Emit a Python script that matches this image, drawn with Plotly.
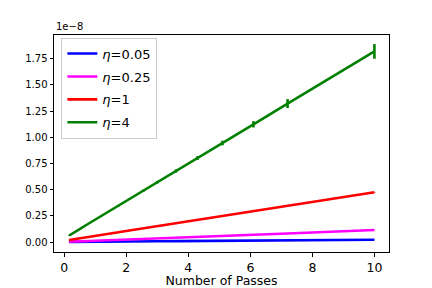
import plotly.graph_objects as go

# Number of passes (x values)
passes = [0.16, 0.2, 0.25, 0.3, 0.37, 0.45, 0.55, 0.67, 0.8, 1.0, 1.2, 1.45,
          1.75, 2.1, 2.55, 3.0, 3.6, 4.3, 5.1, 6.1, 7.2, 10.0]

# Values in units of 1e-8
eta_005 = [0.000, 0.000, 0.001, 0.001, 0.001, 0.001, 0.001, 0.002, 0.002, 0.002, 0.003, 0.003,
           0.004, 0.005, 0.006, 0.007, 0.008, 0.010, 0.011, 0.014, 0.016, 0.022]
eta_025 = [0.004, 0.004, 0.005, 0.005, 0.006, 0.007, 0.008, 0.009, 0.010, 0.012, 0.014, 0.017,
           0.020, 0.024, 0.029, 0.034, 0.041, 0.049, 0.058, 0.069, 0.081, 0.115]
eta_1 = [0.019, 0.021, 0.024, 0.026, 0.029, 0.033, 0.037, 0.043, 0.049, 0.058, 0.068, 0.079,
         0.093, 0.109, 0.130, 0.151, 0.178, 0.211, 0.248, 0.294, 0.345, 0.475]
eta_4 = [0.062, 0.070, 0.079, 0.088, 0.100, 0.115, 0.133, 0.155, 0.178, 0.214, 0.249, 0.294,
         0.347, 0.410, 0.490, 0.571, 0.678, 0.803, 0.945, 1.124, 1.322, 1.820]

err_005 = [0.0005] * len(passes)
err_025 = [0.001] * len(passes)
err_1 = [0.002] * len(passes)
err_4 = [0.003, 0.003, 0.003, 0.003, 0.003, 0.004, 0.004, 0.004, 0.004, 0.005, 0.005, 0.006,
         0.007, 0.008, 0.010, 0.012, 0.015, 0.018, 0.022, 0.030, 0.043, 0.070]

labels = ["<i>η</i>=0.05", "<i>η</i>=0.25", "<i>η</i>=1", "<i>η</i>=4"]
colors = ["#0000ff", "#ff00ff", "#ff0000", "#008000"]
series = [eta_005, eta_025, eta_1, eta_4]
errors = [err_005, err_025, err_1, err_4]

y_ticks = [0.0, 0.25, 0.5, 0.75, 1.0, 1.25, 1.5, 1.75]
y_tick_text = ["0.00", "0.25", "0.50", "0.75", "1.00", "1.25", "1.50", "1.75"]
x_ticks = [0, 2, 4, 6, 8, 10]

fig = go.Figure()
for i, (name, col, ys, es) in enumerate(zip(labels, colors, series, errors)):
    fig.add_trace(go.Scatter(
        x=passes, y=ys, mode="lines", name=name, legendgroup=f"g{i}",
        line=dict(color=col, width=2.6),
        error_y=dict(type="data", array=es, visible=True, color=col,
                     thickness=2.6, width=0),
    ))

axis_common = dict(showline=True, linecolor="black", linewidth=1, mirror=True,
                   showgrid=False, zeroline=False, ticks="outside", ticklen=3.5,
                   tickcolor="black", tickwidth=1, automargin=False)

fig.update_layout(
    width=432, height=288,
    margin=dict(l=54, r=43, t=35, b=36),
    paper_bgcolor="white", plot_bgcolor="white",
    font=dict(family="DejaVu Sans", color="black", size=10),
    xaxis=dict(range=[-0.33, 10.47], tickvals=x_ticks,
               tickfont=dict(size=12.5),
               title=dict(text="Number of Passes", font=dict(size=12.5), standoff=2),
               **axis_common),
    yaxis=dict(range=[-0.0955, 1.977], tickvals=y_ticks, ticktext=y_tick_text,
               tickfont=dict(size=10), **axis_common),
    legend=dict(x=0.022, y=0.988, xanchor="left", yanchor="top",
                bgcolor="rgba(255,255,255,0.8)", bordercolor="#cccccc", borderwidth=1,
                font=dict(size=13), itemwidth=30, tracegroupgap=3),
    showlegend=True,
)
fig.add_annotation(text="1e−8", xref="paper", yref="paper", x=0, y=1,
                   xanchor="left", yanchor="bottom", showarrow=False,
                   font=dict(size=10), yshift=1)

fig.write_html("out.html", config={"displayModeBar": False},
               post_script="document.body.style.margin='0';")
